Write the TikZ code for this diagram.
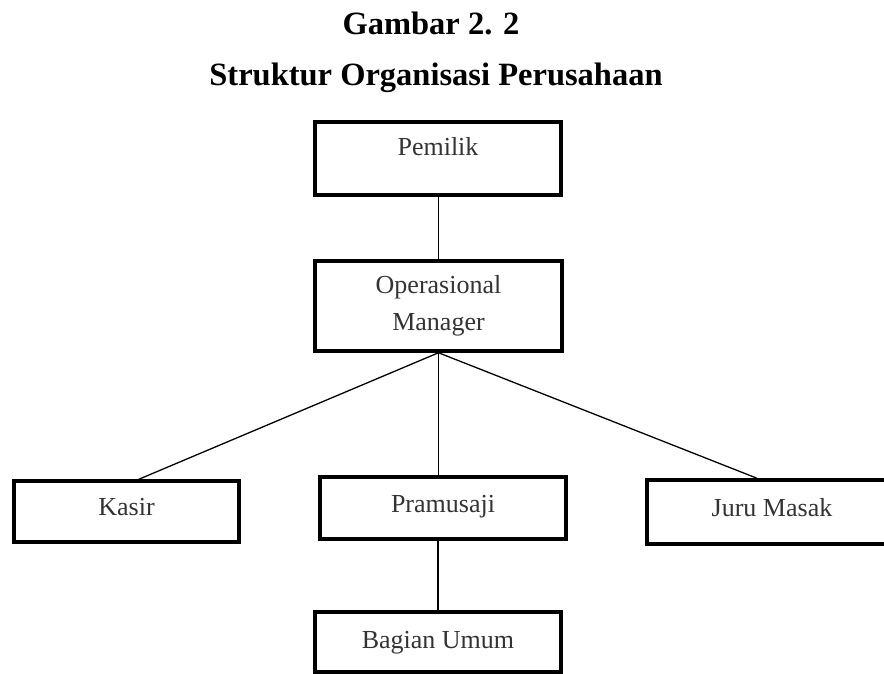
\documentclass[tikz,border=0pt]{standalone}
\usepackage{fontspec}
\setmainfont{Liberation Serif}
\usepackage{tikz}
\usetikzlibrary{calc}

\begin{document}
\begin{tikzpicture}[x=1pt,y=-1pt]
\tikzstyle{unit} = [rectangle,draw=black,line width=3.5pt,inner sep=0pt,
  text=black!80,font=\fontsize{26}{37}\selectfont,align=center,text height=18pt]
\tikzstyle{link} = [line width=1.3pt]
\tikzstyle{heading} = [font=\fontsize{32.5}{38}\selectfont\bfseries,anchor=base]
\useasboundingbox (0,0) rectangle (884,674);
% judul
\node[heading] (judul) at (431,35) {Gambar 2. 2};
\node[heading] (subjudul) at (436,86) {Struktur Organisasi Perusahaan};
% kotak
\node[unit,minimum width=246,minimum height=73,text depth=24pt] (pemilik) at (438,158.5) {Pemilik};
\node[unit,minimum width=247,minimum height=90,text height=,text depth=] (op) at (438.5,306) {Operasional\\Manager};
\node[unit,minimum width=225,minimum height=61,text depth=10pt] (kasir) at (126.5,511.5) {Kasir};
\node[unit,minimum width=246,minimum height=62,text depth=10pt] (pramusaji) at (443,508) {Pramusaji};
\node[unit,minimum width=250,minimum height=64,text depth=10pt] (juru) at (772,512) {Juru Masak};
\node[unit,minimum width=246,minimum height=60,text depth=5pt] (umum) at (438,642) {Bagian Umum};
% garis
\draw[link] (pemilik.south -| op.north) -- (op.north);
\draw[link] (op.south) -- (kasir.69);
\draw[link] (op.south) -- (op.south |- pramusaji.north);
\draw[link] (op.south) -- (juru.114);
\draw[link] (umum.north |- pramusaji.south) -- (umum.north);
\end{tikzpicture}
\end{document}
